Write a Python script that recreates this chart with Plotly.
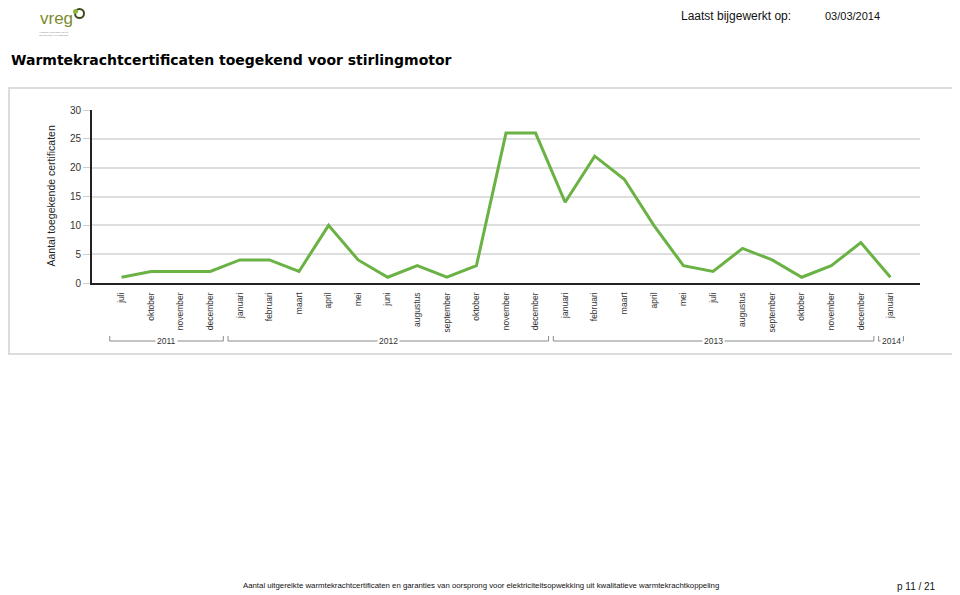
import plotly.graph_objects as go

# ---------------- data ----------------
months = ["juli", "oktober", "november", "december",
          "januari", "februari", "maart", "april", "mei", "juni", "augustus",
          "september", "oktober", "november", "december",
          "januari", "februari", "maart", "april", "mei", "juli", "augustus",
          "september", "oktober", "november", "december",
          "januari"]
years = ["2011"] * 4 + ["2012"] * 11 + ["2013"] * 11 + ["2014"] * 1
values = [1, 2, 2, 2,
          4, 4, 2, 10, 4, 1, 3, 1, 3, 26, 26,
          14, 22, 18, 10, 3, 2, 6, 4, 1, 3, 7,
          1]
y_ticks = [0, 5, 10, 15, 20, 25, 30]

title = "Warmtekrachtcertificaten toegekend voor stirlingmotor"
y_title = "Aantal toegekende certificaten"
footer = ("Aantal uitgereikte warmtekrachtcertificaten en garanties van oorsprong "
          "voor elektriciteitsopwekking uit kwalitatieve warmtekrachtkoppeling")

# ---------------- layout helpers ----------------
OFF = 8                      # browser body margin
W, H = 960 - OFF, 595 - OFF  # figure size
PL, PR, PT, PB = 92, 920, 110, 283  # plot area in page pixels
L, R, T, B = PL - OFF, PR - OFF, PT - OFF, PB - OFF  # in figure pixels

SANS = "Liberation Sans, Arial, sans-serif"


def px(x):  # page pixel -> paper
    return (x - PL) / (PR - PL)


def py(y):
    return (PB - y) / (PB - PT)


idx = list(range(len(values)))

fig = go.Figure()
fig.add_trace(go.Scatter(
    x=idx, y=values, mode="lines",
    line=dict(color="#6ab244", width=3),
    hoverinfo="skip", showlegend=False,
))

shapes = []
annotations = []

# chart frame
shapes.append(dict(type="rect", xref="paper", yref="paper",
                   x0=px(9), x1=px(956), y0=py(354), y1=py(88),
                   line=dict(color="#dcdcdc", width=2), layer="below"))

# year group brackets
groups = []
for i, yv in enumerate(years):
    if groups and groups[-1][0] == yv:
        groups[-1][2] = i
    else:
        groups.append([yv, i, i])

y_line = py(341)
y_top = py(336)
for yv, a, b in groups:
    x0, x1 = a - 0.4, b + 0.44
    for seg in [(x0, y_line, x1, y_line), (x0, y_line, x0, y_top), (x1, y_line, x1, y_top)]:
        shapes.append(dict(type="line", xref="x", yref="paper",
                           x0=seg[0], y0=seg[1], x1=seg[2], y1=seg[3],
                           line=dict(color="#8a8a8a", width=1)))
    annotations.append(dict(x=(x0 + x1) / 2, y=y_line, xref="x", yref="paper",
                            text=yv, showarrow=False, bgcolor="white",
                            borderpad=1, xanchor="center", yanchor="middle",
                            font=dict(family=SANS, size=8.5, color="#333")))

# y axis title
annotations.append(dict(x=px(50), y=0.5, xref="paper", yref="paper",
                        text=y_title, textangle=-90, showarrow=False,
                        xanchor="center", yanchor="middle",
                        font=dict(family=SANS, size=10.5, color="#222")))

# page title
annotations.append(dict(x=px(9), y=py(60), xref="paper", yref="paper",
                        text="<b>" + title + "</b>", showarrow=False,
                        xanchor="left", yanchor="middle",
                        font=dict(family="DejaVu Sans", size=14, color="#000")))

# header
annotations.append(dict(x=px(679), y=py(16), xref="paper", yref="paper",
                        text="Laatst bijgewerkt op:", showarrow=False,
                        xanchor="left", yanchor="middle",
                        font=dict(family=SANS, size=12, color="#111")))
annotations.append(dict(x=px(823), y=py(16), xref="paper", yref="paper",
                        text="03/03/2014", showarrow=False,
                        xanchor="left", yanchor="middle",
                        font=dict(family=SANS, size=11, color="#111")))

# logo
annotations.append(dict(x=px(38), y=py(18), xref="paper", yref="paper",
                        text="vreg", showarrow=False,
                        xanchor="left", yanchor="middle",
                        font=dict(family=SANS, size=17, color="#7d8b2c")))
annotations.append(dict(x=px(37), y=py(29), xref="paper", yref="paper",
                        text="Vlaamse Regulator van de<br>Elektriciteits- en Gasmarkt",
                        showarrow=False, xanchor="left", yanchor="top",
                        font=dict(family=SANS, size=2.5, color="#888")))
shapes.append(dict(type="circle", xref="paper", yref="paper",
                   x0=px(75), x1=px(84), y0=py(18), y1=py(9),
                   line=dict(color="#3c4a1a", width=2), fillcolor="rgba(0,0,0,0)"))
shapes.append(dict(type="circle", xref="paper", yref="paper",
                   x0=px(73), x1=px(78), y0=py(14), y1=py(9),
                   line=dict(width=0), fillcolor="#8cb63c"))

# footer
annotations.append(dict(x=px(241), y=py(585), xref="paper", yref="paper",
                        text=footer, showarrow=False,
                        xanchor="left", yanchor="middle",
                        font=dict(family=SANS, size=7.8, color="#111")))
annotations.append(dict(x=px(938), y=py(586), xref="paper", yref="paper",
                        text="p 11 / 21", showarrow=False,
                        xanchor="right", yanchor="middle",
                        font=dict(family=SANS, size=10, color="#111")))

fig.update_layout(
    width=W, height=H,
    margin=dict(l=L, r=W - R, t=T, b=H - B, pad=0),
    paper_bgcolor="white", plot_bgcolor="white",
    shapes=shapes, annotations=annotations,
    showlegend=False,
    xaxis=dict(
        range=[-1, len(values)],
        tickmode="array", tickvals=idx, ticktext=months,
        tickangle=-90, ticks="", ticklabelstandoff=4,
        tickfont=dict(family=SANS, size=8.5, color="#333"),
        showgrid=False, zeroline=False,
        showline=True, linecolor="#222", linewidth=2,
        fixedrange=True,
    ),
    yaxis=dict(
        range=[0, 30],
        tickmode="array", tickvals=y_ticks,
        ticks="outside", ticklen=7, tickcolor="#cfcfcf", tickwidth=1,
        tickfont=dict(family=SANS, size=10, color="#333"),
        showgrid=True, gridcolor="#dedede", gridwidth=2,
        zeroline=False,
        showline=True, linecolor="#222", linewidth=2,
        fixedrange=True,
    ),
)

fig.write_html("out.html")
